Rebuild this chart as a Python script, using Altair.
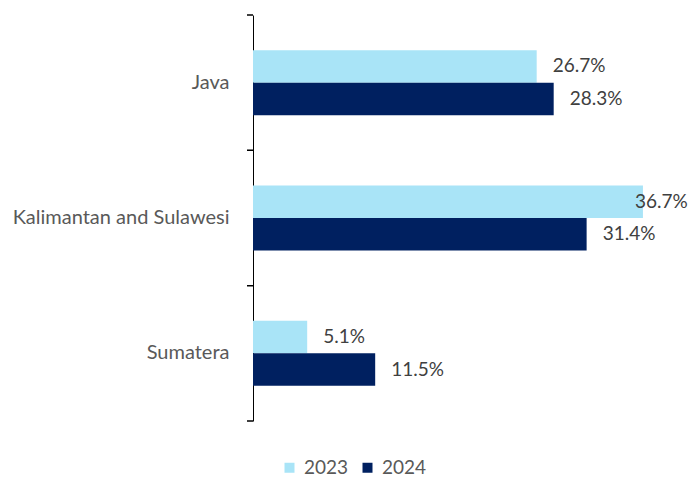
import altair as alt
import pandas as pd

regions = ["Java", "Kalimantan and Sulawesi", "Sumatera"]
years = ["2023", "2024"]
share_2023 = [26.7, 36.7, 5.1]
share_2024 = [28.3, 31.4, 11.5]
colors = ["#A9E4F7", "#002060"]

rows = []
for r, a, b in zip(regions, share_2023, share_2024):
    rows.append({"region": r, "year": years[0], "value": a})
    rows.append({"region": r, "year": years[1], "value": b})
df = pd.DataFrame(rows)

FONT = "Lato"
P_IN = 0.52

y_axis = alt.Axis(
    title=None, ticks=False, tickSize=0, domainColor="#000000", domainWidth=1,
    labelFont=FONT, labelFontSize=20, labelColor="#595959", labelPadding=24,
    labelLimit=400,
)
y_scale = alt.Scale(paddingInner=P_IN, paddingOuter=P_IN / 2)
y_enc = alt.Y("region:N", sort=regions, scale=y_scale, axis=y_axis)
yoff = alt.YOffset("year:N", sort=years,
                   scale=alt.Scale(paddingInner=0, paddingOuter=0))
x_enc = alt.X("value:Q", scale=alt.Scale(domain=[0, 40], nice=False), axis=None)

base = alt.Chart(df).transform_calculate(
    label="format(datum.value, '.1f') + '%'"
)

bars = base.mark_bar().encode(
    y=y_enc, yOffset=yoff, x=x_enc,
    color=alt.Color(
        "year:N", sort=years,
        scale=alt.Scale(domain=years, range=colors),
        legend=alt.Legend(
            title=None, orient="none", direction="horizontal",
            legendX=27, legendY=443, symbolType="square", symbolSize=100,
            symbolStrokeWidth=0, labelFont=FONT, labelFontSize=19,
            labelColor="#595959", columnPadding=9, labelOffset=5, padding=0,
        ),
    ),
)

text_style = dict(align="left", baseline="middle", font=FONT, fontSize=19,
                  color="#404040")
labels_out = base.transform_filter("datum.value < 35").mark_text(
    dx=16, **text_style
).encode(y=y_enc, yOffset=yoff, x=x_enc, text="label:N")
labels_edge = base.transform_filter("datum.value >= 35").mark_text(
    dx=-8, **text_style
).encode(y=y_enc, yOffset=yoff, x=x_enc, text="label:N")

main = alt.layer(bars, labels_out, labels_edge)

tick_scale = alt.Scale(paddingInner=0, paddingOuter=0)
ticks_top = base.mark_rule(color="#000000", strokeWidth=1).encode(
    y=alt.Y("region:N", sort=regions, bandPosition=0, scale=tick_scale, axis=None),
    x=alt.value(-6), x2=alt.value(0),
)
ticks_bottom = base.mark_rule(color="#000000", strokeWidth=1).encode(
    y=alt.Y("region:N", sort=regions, bandPosition=1, scale=tick_scale, axis=None),
    x=alt.value(-6), x2=alt.value(0),
)
ticks = alt.layer(ticks_top, ticks_bottom)

chart = alt.layer(main, ticks).resolve_scale(y="independent").properties(
    width=425, height=406,
    autosize=alt.AutoSizeParams(type="none"),
    padding={"left": 245, "top": 7, "right": 11, "bottom": 72},
).configure_view(stroke=None)

chart.save("out.html", embed_options={"renderer": "svg", "actions": False})
